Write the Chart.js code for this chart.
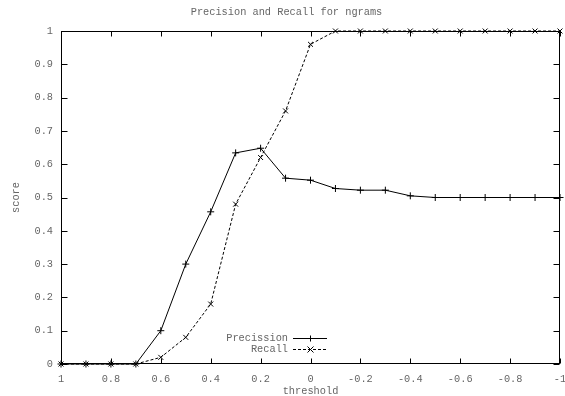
<!DOCTYPE html>
<html>
<head>
<meta charset="utf-8">
<script src="https://cdn.jsdelivr.net/npm/chart.js@4/dist/chart.umd.min.js"></script>
<style>
html,body{margin:0;padding:0;background:#fff;}
canvas{display:block;}
</style>
</head>
<body>
<canvas id="c" width="565" height="396"></canvas>
<script>
const chartTitle = "Precision and Recall for ngrams";
const xTitle = "threshold";
const yTitle = "score";
const thresholds = [1, 0.9, 0.8, 0.7, 0.6, 0.5, 0.4, 0.3, 0.2, 0.1, 0, -0.1, -0.2, -0.3, -0.4, -0.5, -0.6, -0.7, -0.8, -0.9, -1];
const precision = [0, 0, 0, 0, 0.1, 0.3, 0.457, 0.634, 0.648, 0.558, 0.552, 0.527, 0.522, 0.522, 0.505, 0.5, 0.5, 0.5, 0.5, 0.5, 0.5];
const recall = [0, 0, 0, 0, 0.02, 0.08, 0.18, 0.48, 0.62, 0.76, 0.96, 1, 1, 1, 1, 1, 1, 1, 1, 1, 1];
const seriesNames = ["Precission", "Recall"];

const FAMILY = "'Liberation Mono', 'DejaVu Sans Mono', monospace";
const FSIZE = 10.3;
const FONT = FSIZE + "px " + FAMILY;
const TEXT = "#666";

function pts(vals) { return thresholds.map((t, i) => ({x: t, y: vals[i]})); }
function fmt(v) { return String(Number(Number(v).toFixed(1))); }

const framePlugin = {
  id: 'frame',
  afterDraw(chart) {
    const {ctx, chartArea: a, scales: {x, y}} = chart;
    ctx.save();
    ctx.strokeStyle = '#000';
    ctx.lineWidth = 1;
    ctx.setLineDash([]);
    const L = Math.round(a.left) + 0.5, R = Math.round(a.right) - 0.5;
    const T = Math.round(a.top) + 0.5, B = Math.round(a.bottom) - 0.5;
    ctx.strokeRect(L, T, R - L, B - T);
    const tl = 5;
    ctx.beginPath();
    x.ticks.forEach(t => {
      const px = Math.round(x.getPixelForValue(t.value)) + 0.5;
      ctx.moveTo(px, B); ctx.lineTo(px, B - tl);
      ctx.moveTo(px, T); ctx.lineTo(px, T + tl);
    });
    y.ticks.forEach(t => {
      const py = Math.round(y.getPixelForValue(t.value)) + 0.5;
      ctx.moveTo(L, py); ctx.lineTo(L + tl + 1, py);
      ctx.moveTo(R, py); ctx.lineTo(R - tl - 1, py);
    });
    ctx.stroke();

    ctx.fillStyle = TEXT;
    ctx.font = FONT;
    ctx.textAlign = 'center';
    ctx.textBaseline = 'middle';
    ctx.fillText(chartTitle, chart.width / 2 + 4, 12);
    ctx.fillText(xTitle, (a.left + a.right) / 2, 391);
    ctx.save();
    ctx.translate(16, (a.top + a.bottom) / 2);
    ctx.rotate(-Math.PI / 2);
    ctx.fillText(yTitle, 0, 0);
    ctx.restore();

    // legend
    const ds = chart.data.datasets;
    const rows = [338, 349];
    ds.forEach((d, i) => {
      const yy = rows[i] + 0.5;
      ctx.fillStyle = TEXT;
      ctx.textAlign = 'right';
      ctx.fillText(d.label, 288, rows[i]);
      ctx.strokeStyle = '#000';
      ctx.lineWidth = 1;
      ctx.setLineDash(d.borderDash || []);
      ctx.beginPath();
      ctx.moveTo(293, yy); ctx.lineTo(327, yy);
      ctx.stroke();
      ctx.setLineDash([]);
      ctx.beginPath();
      const cx = 310.5, r = 3;
      if (d.pointStyle === 'cross') {
        ctx.moveTo(cx - r, yy); ctx.lineTo(cx + r, yy);
        ctx.moveTo(cx, yy - r); ctx.lineTo(cx, yy + r);
      } else {
        ctx.moveTo(cx - r, yy - r); ctx.lineTo(cx + r, yy + r);
        ctx.moveTo(cx - r, yy + r); ctx.lineTo(cx + r, yy - r);
      }
      ctx.stroke();
    });
    ctx.restore();
  }
};

new Chart(document.getElementById('c'), {
  type: 'line',
  data: {
    datasets: [
      {
        label: seriesNames[0],
        data: pts(precision),
        borderColor: '#000',
        backgroundColor: '#000',
        borderWidth: 1,
        pointStyle: 'cross',
        pointRadius: 3.5,
        pointBorderColor: '#000',
        pointBorderWidth: 1,
        fill: false,
        tension: 0,
        clip: false
      },
      {
        label: seriesNames[1],
        data: pts(recall),
        borderColor: '#000',
        backgroundColor: '#000',
        borderWidth: 1,
        borderDash: [3, 2],
        pointStyle: 'crossRot',
        pointRadius: 3.5,
        pointBorderColor: '#000',
        pointBorderWidth: 1,
        fill: false,
        tension: 0,
        clip: false
      }
    ]
  },
  options: {
    responsive: false,
    animation: false,
    devicePixelRatio: 1,
    layout: { padding: { top: 31, right: 2, left: 0, bottom: 0 } },
    plugins: { legend: { display: false }, title: { display: false }, tooltip: { enabled: false } },
    scales: {
      x: {
        type: 'linear',
        reverse: true,
        min: -1, max: 1,
        grid: { display: false, drawTicks: false },
        border: { display: false },
        ticks: { stepSize: 0.2, color: TEXT, font: { family: FAMILY, size: FSIZE }, padding: 9, maxRotation: 0, autoSkip: false, callback: fmt },
        afterFit(s) { s.height = 32; s.paddingLeft = 0; s.paddingRight = 0; }
      },
      y: {
        type: 'linear',
        min: 0, max: 1,
        grid: { display: false, drawTicks: false },
        border: { display: false },
        ticks: { stepSize: 0.1, color: TEXT, font: { family: FAMILY, size: FSIZE }, padding: 8, autoSkip: false, callback: fmt },
        afterFit(s) { s.width = 61; s.paddingTop = 0; s.paddingBottom = 0; }
      }
    }
  },
  plugins: [framePlugin]
});
</script>
</body>
</html>
